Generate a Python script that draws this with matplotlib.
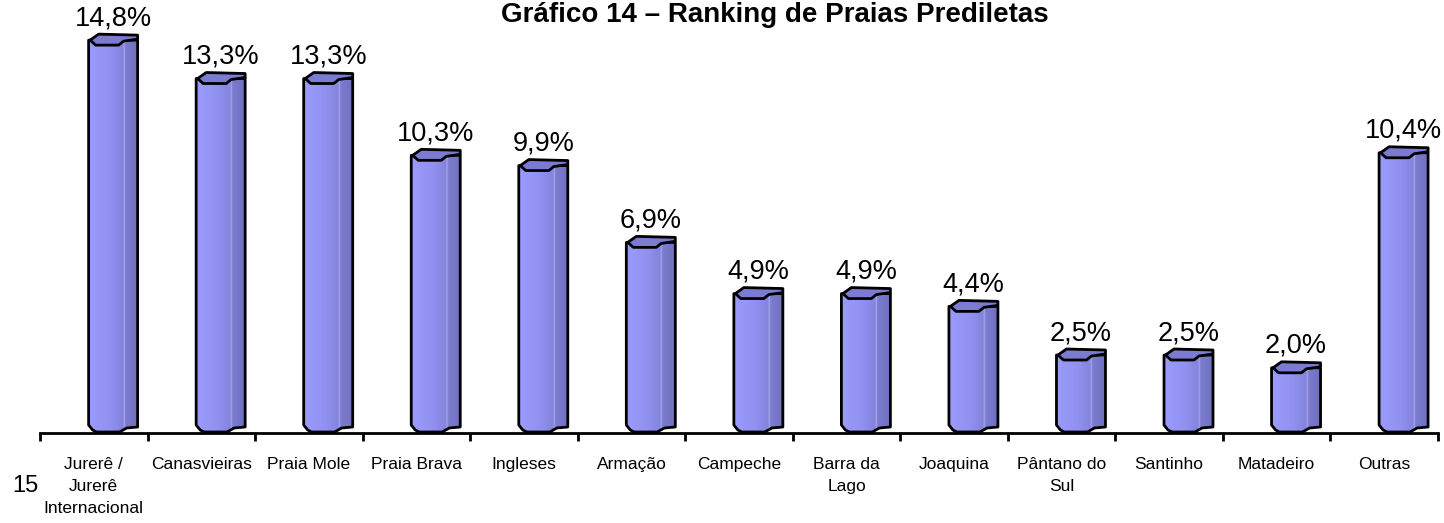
import numpy as np
import matplotlib.pyplot as plt
from matplotlib.patches import Polygon
from matplotlib.colors import to_rgb

plt.rcParams['font.family'] = ['Liberation Sans', 'DejaVu Sans']

praias = ["Jurerê /\nJurerê\nInternacional", "Canasvieiras", "Praia Mole", "Praia Brava",
          "Ingleses", "Armação", "Campeche", "Barra da\nLago", "Joaquina",
          "Pântano do\nSul", "Santinho", "Matadeiro", "Outras"]
percentual = [14.8, 13.3, 13.3, 10.3, 9.9, 6.9, 4.9, 4.9, 4.4, 2.5, 2.5, 2.0, 10.4]
rotulos = ["14,8%", "13,3%", "13,3%", "10,3%", "9,9%", "6,9%", "4,9%", "4,9%",
           "4,4%", "2,5%", "2,5%", "2,0%", "10,4%"]

W, H = 1444, 523
fig = plt.figure(figsize=(W / 100, H / 100), dpi=100)
ax = fig.add_axes([40 / W, 90 / H, 1398 / W, 433 / H])

# pixel scales of the plot area
px_x = 1398 / 13      # px per category
px_y = 25.6           # px per percent
y_min = -9 / px_y
ax.set_xlim(-0.5, 12.5)
ax.set_ylim(y_min, y_min + 433 / px_y)


def dx(p):
    return p / px_x


def dy(p):
    return p / px_y


# horizontal colour profile of the cylinder body
stops = [(0.0, "#9c9cff"), (0.45, "#9090f0"), (0.70, "#8484dc"), (0.72, "#a8a8f0"),
         (0.75, "#7c7cd0"), (1.0, "#7070c0")]
xs = np.linspace(0, 1, 120)
grad = np.zeros((1, len(xs), 3))
for c in range(3):
    grad[0, :, c] = np.interp(xs, [s[0] for s in stops], [to_rgb(s[1])[c] for s in stops])

offset = 0.18
hw = 24.5
lw = 2.0
for i, v in enumerate(percentual):
    cx = i + offset
    body = [(cx - dx(hw), v + dy(5)), (cx + dx(hw), v + dy(5)),
            (cx + dx(hw), dy(-3)), (cx + dx(13.5), dy(-4)), (cx + dx(6.5), dy(-8)),
            (cx - dx(16.5), dy(-8)), (cx - dx(20.5), dy(-6)), (cx - dx(hw), dy(-1))]
    patch = Polygon(body, closed=True, facecolor="none", edgecolor="black",
                    linewidth=lw, zorder=3, joinstyle="round")
    ax.add_patch(patch)
    im = ax.imshow(grad, extent=(cx - dx(hw), cx + dx(hw), dy(-9), v + dy(6)),
                   aspect="auto", zorder=2, interpolation="bilinear")
    im.set_clip_path(patch)
    cap = [(cx - dx(23), v + dy(5)), (cx - dx(17.5), v), (cx + dx(5.5), v),
           (cx + dx(10.5), v + dy(4)), (cx + dx(hw), v + dy(6)),
           (cx + dx(hw), v + dy(10)), (cx - dx(14.5), v + dy(11))]
    ax.add_patch(Polygon(cap, closed=True, facecolor="#7b7bd2", edgecolor="black",
                         linewidth=lw, zorder=4, joinstyle="round"))
    ax.text(cx, v + dy(14), rotulos[i], ha="center", va="bottom", fontsize=19.5, zorder=5)

# axis: only the bottom line with separators between categories
for s in ["top", "right", "left"]:
    ax.spines[s].set_visible(False)
ax.spines["bottom"].set_linewidth(2)
ax.set_yticks([])
ax.set_xticks(np.arange(13))
ax.set_xticklabels(praias, fontsize=12.5, linespacing=1.6, va="top")
ax.set_xticks(np.arange(-0.5, 13, 1), minor=True)
ax.tick_params(axis="x", which="major", length=0, pad=17)
ax.tick_params(axis="x", which="minor", length=6, width=2, direction="out")

fig.text(775 / W, 1 - 22 / H, "Gráfico 14 – Ranking de Praias Prediletas",
         ha="center", va="baseline", fontsize=20, fontweight="bold")
fig.text(12 / W, 1 - 492 / H, "15", ha="left", va="baseline", fontsize=17)

fig.savefig("out.png", dpi=100)
